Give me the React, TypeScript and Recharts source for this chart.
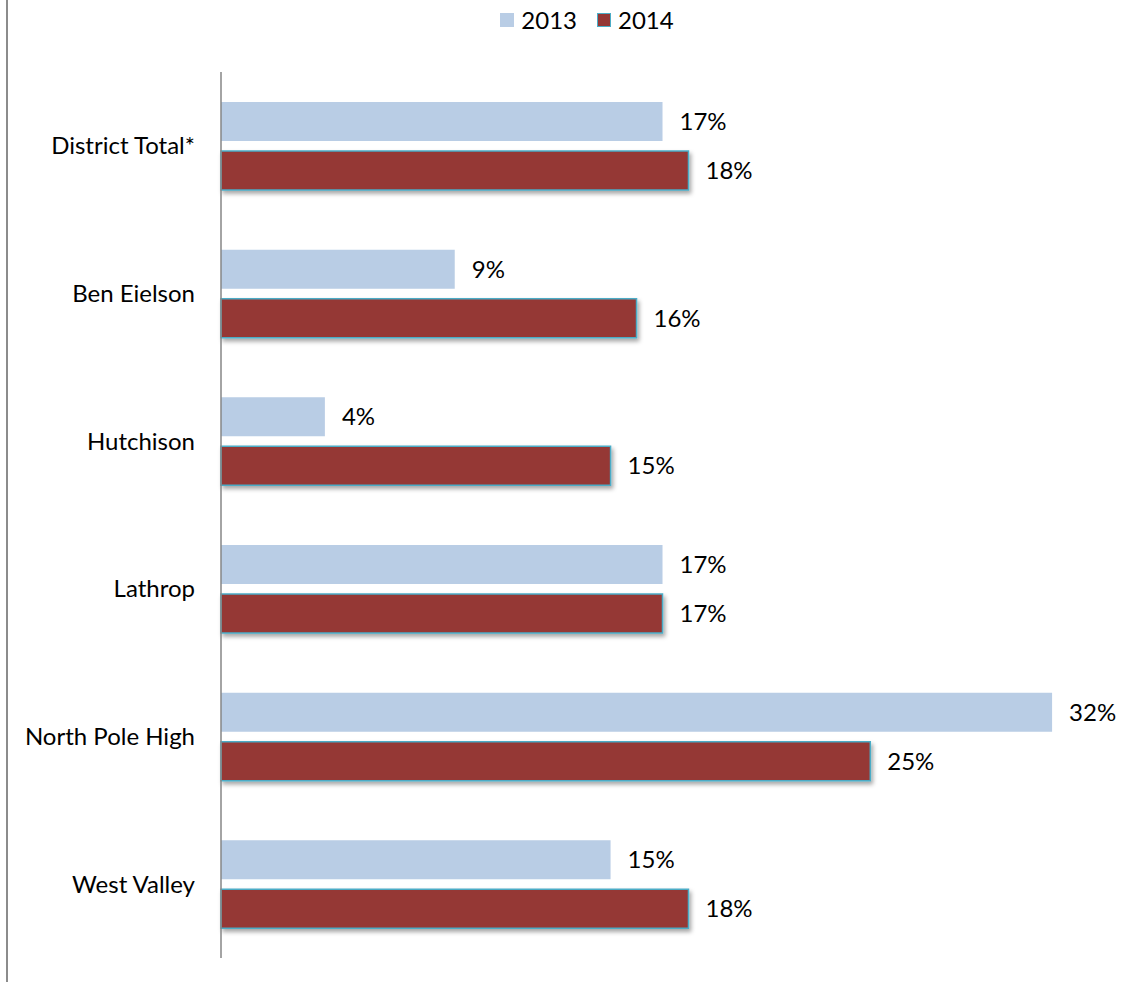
import React from "react";
import { BarChart, Bar, XAxis, YAxis, Legend, LabelList, Rectangle } from "recharts";

const schools = ["District Total*", "Ben Eielson", "Hutchison", "Lathrop", "North Pole High", "West Valley"];
const values2013 = [17, 9, 4, 17, 32, 15];
const values2014 = [18, 16, 15, 17, 25, 18];

const data = schools.map((name, i) => ({ name, y2013: values2013[i], y2014: values2014[i] }));

const FONT = "Lato, 'Open Sans', sans-serif";
const LIGHT = "#B9CDE5";
const DARK = "#953735";
const EDGE = "#4BACC6";

function LegendBox() {
    const item = (fill: string, label: string, border?: string, gap = 0) => (
        <span style={{ display: "inline-flex", alignItems: "center", marginRight: gap }}>
            <span
                style={{
                    display: "inline-block",
                    flexShrink: 0,
                    boxSizing: "border-box",
                    width: 14,
                    height: 14,
                    background: fill,
                    border: border ? `1.5px solid ${border}` : "none",
                    marginRight: 7,
                }}
            />
            <span style={{ fontSize: 24, color: "#000", lineHeight: "28px" }}>{label}</span>
        </span>
    );
    return (
        <div
            style={{
                height: 30,
                display: "flex",
                justifyContent: "center",
                alignItems: "center",
                fontFamily: FONT,
                paddingLeft: 44,
            }}
        >
            {item(LIGHT, "2013", undefined, 20)}
            {item(DARK, "2014", EDGE)}
        </div>
    );
}

const shadowBar = (props: any) => <Rectangle {...props} filter="url(#barShadow)" />;

export default function App() {
    return (
        <div style={{ position: "absolute", left: 0, top: 0, width: 1145, height: 982, background: "#fff" }}>
            <div style={{ position: "absolute", left: 6, top: 0, width: 2, height: 982, background: "#8c8c8c" }} />
            <BarChart
                width={1145}
                height={982}
                data={data}
                layout="vertical"
                margin={{ top: 42, right: 15, bottom: 24, left: 0 }}
                barSize={39}
                barGap={10}
                barCategoryGap={0}
            >
                <defs>
                    <filter id="barShadow" x="-5%" y="-20%" width="115%" height="160%">
                        <feDropShadow dx="2" dy="3" stdDeviation="2" floodColor="#000" floodOpacity="0.35" />
                    </filter>
                </defs>
                <Legend verticalAlign="top" align="center" wrapperStyle={{ top: 5 }} content={() => <LegendBox />} />
                <XAxis type="number" domain={[0, 35]} hide />
                <YAxis
                    type="category"
                    dataKey="name"
                    width={221}
                    axisLine={{ stroke: "#868686", strokeWidth: 1.5 }}
                    tickLine={false}
                    tickSize={0}
                    tickMargin={26}
                    tick={{ fontSize: 24, fill: "#000", fontFamily: FONT }}
                />
                <Bar dataKey="y2013" fill={LIGHT} isAnimationActive={false}>
                    <LabelList
                        dataKey="y2013"
                        position="right"
                        offset={17}
                        formatter={(v: any) => `${v}%`}
                        style={{ fontSize: 24, fill: "#000", fontFamily: FONT }}
                    />
                </Bar>
                <Bar dataKey="y2014" fill={DARK} stroke={EDGE} strokeWidth={1.5} shape={shadowBar} isAnimationActive={false}>
                    <LabelList
                        dataKey="y2014"
                        position="right"
                        offset={17}
                        formatter={(v: any) => `${v}%`}
                        style={{ fontSize: 24, fill: "#000", fontFamily: FONT }}
                    />
                </Bar>
            </BarChart>
        </div>
    );
}
